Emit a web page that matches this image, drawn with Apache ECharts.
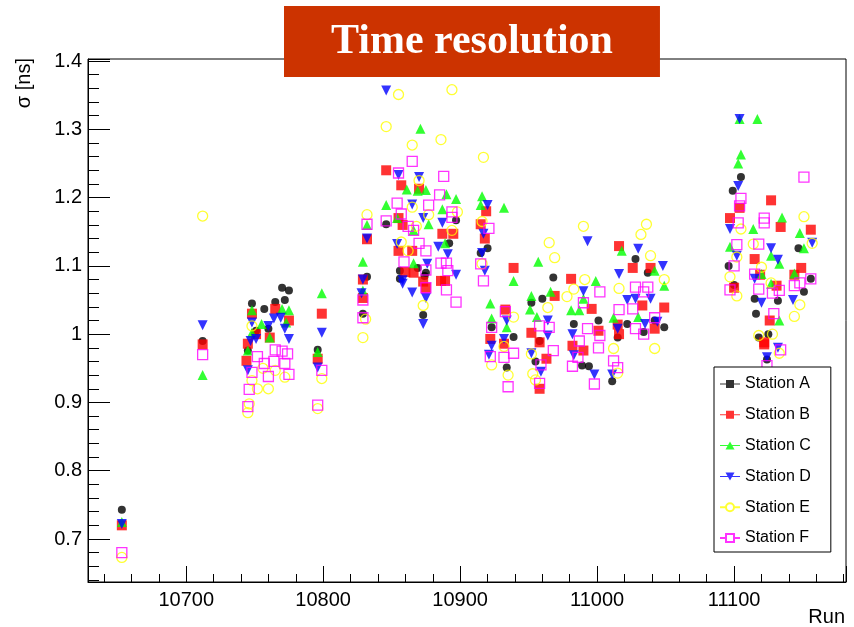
<!DOCTYPE html>
<html>
<head>
<meta charset="utf-8">
<script src="https://cdn.jsdelivr.net/npm/echarts@6/dist/echarts.min.js"></script>
<style>
html,body{margin:0;padding:0;background:#fff;}
#chart{width:854px;height:627px;}
</style>
</head>
<body>
<div id="chart"></div>
<script>
// [run, sigma (ns)] per station
const stationA = [[10653,0.743],[10712,0.990],[10748,1.045],[10757,1.037],[10765,1.047],[10770,1.068],[10775,1.064],[10772,1.050],[10760,1.008],[10745,0.976],[10751,1.005],[10796,0.977],[10832,1.084],[10829,1.030],[10846,1.161],[10892,1.133],[10897,1.167],[10869,1.097],[10856,1.093],[10856,1.081],[10875,1.090],[10874,1.085],[10873,1.028],[10920,1.126],[10915,1.119],[10923,1.010],[10939,0.996],[10934,0.951],[10968,1.083],[10952,1.046],[10960,1.052],[10958,0.990],[10955,0.960],[10983,1.015],[10994,0.953],[10989,0.954],[11001,1.020],[11028,1.110],[11022,1.015],[11015,0.995],[11011,0.931],[11037,1.090],[11034,1.003],[11049,1.010],[11042,1.020],[11105,1.230],[11099,1.210],[11096,1.100],[11100,1.072],[11115,1.052],[11116,1.030],[11132,1.049],[11118,0.995],[11124,0.963],[11125,1.000],[11147,1.126],[11156,1.081],[11151,1.062]];
const stationB = [[10653,0.720],[10712,0.985],[10748,1.030],[10745,0.986],[10744,0.961],[10765,1.037],[10775,1.020],[10761,0.995],[10751,1.000],[10799,1.030],[10796,0.964],[10832,1.139],[10829,1.080],[10829,1.053],[10846,1.240],[10857,1.218],[10870,1.213],[10855,1.170],[10858,1.160],[10887,1.147],[10895,1.147],[10855,1.122],[10865,1.122],[10860,1.091],[10866,1.090],[10886,1.078],[10889,1.078],[10873,1.077],[10875,1.068],[10919,1.180],[10915,1.161],[10918,1.140],[10922,0.993],[10939,1.097],[10933,1.036],[10932,0.986],[10969,1.056],[10952,1.002],[10958,0.988],[10963,0.964],[10958,0.920],[10981,1.081],[10996,1.037],[11001,1.005],[10982,0.983],[10990,0.976],[11016,1.129],[11026,1.097],[11015,1.014],[11016,1.000],[11039,1.097],[11049,1.039],[11033,1.042],[11042,1.008],[11097,1.170],[11104,1.185],[11127,1.196],[11134,1.157],[11115,1.110],[11119,1.087],[11100,1.068],[11131,1.071],[11126,1.020],[11122,0.988],[11122,0.985],[11156,1.153],[11149,1.097],[11144,1.087]];
const stationC = [[10653,0.725],[10712,0.940],[10748,1.035],[10748,1.002],[10761,0.995],[10770,1.037],[10775,1.035],[10773,1.017],[10745,0.976],[10755,1.015],[10799,1.060],[10796,0.974],[10832,1.160],[10829,1.106],[10829,1.064],[10871,1.301],[10861,1.212],[10869,1.210],[10875,1.211],[10890,1.205],[10897,1.198],[10846,1.189],[10887,1.183],[10854,1.170],[10877,1.161],[10866,1.152],[10889,1.133],[10866,1.104],[10916,1.202],[10915,1.189],[10932,1.185],[10922,1.045],[10923,1.023],[10939,1.078],[10934,1.010],[10957,1.106],[10952,1.056],[10951,1.036],[10956,1.025],[10966,1.062],[10999,1.078],[10990,1.052],[10981,1.035],[10987,1.035],[11012,1.024],[11018,1.122],[11042,1.093],[11049,1.071],[11030,1.025],[11104,1.315],[11117,1.315],[11105,1.263],[11103,1.250],[11097,1.128],[11135,1.171],[11114,1.154],[11127,1.115],[11133,1.103],[11120,1.088],[11127,1.074],[11133,1.020],[11148,1.148],[11151,1.126],[11144,1.089]];
const stationD = [[10653,0.722],[10712,1.013],[10748,1.017],[10747,0.990],[10745,0.947],[10751,0.993],[10760,1.012],[10764,1.023],[10769,1.024],[10772,1.008],[10775,0.993],[10799,1.002],[10796,0.951],[10832,1.140],[10829,1.080],[10828,1.060],[10846,1.357],[10855,1.233],[10870,1.230],[10865,1.190],[10873,1.170],[10887,1.163],[10854,1.132],[10884,1.128],[10891,1.117],[10876,1.103],[10858,1.074],[10865,1.061],[10897,1.087],[10875,1.053],[10873,1.015],[10858,1.079],[10920,1.189],[10917,1.147],[10916,1.119],[10918,1.093],[10923,0.983],[10921,0.970],[10934,1.020],[10932,0.993],[10964,1.020],[10964,0.998],[10952,0.972],[10959,0.945],[10993,1.136],[10990,1.063],[10982,1.000],[10983,0.969],[10998,0.941],[11030,1.125],[11016,1.088],[11022,1.050],[11015,1.008],[11011,0.941],[11048,1.100],[11039,1.052],[11028,1.052],[11035,1.015],[11044,1.018],[11104,1.315],[11103,1.217],[11097,1.154],[11102,1.115],[11127,1.126],[11132,1.109],[11115,1.081],[11120,1.046],[11124,0.966],[11132,0.980],[11157,1.134],[11143,1.050]];
const stationE = [[10653,0.673],[10712,1.173],[10748,1.012],[10748,0.932],[10752,0.920],[10760,0.920],[10745,0.885],[10746,0.898],[10756,0.950],[10765,0.947],[10772,0.937],[10799,0.935],[10796,0.891],[10832,1.175],[10831,1.022],[10829,0.995],[10855,1.351],[10846,1.304],[10865,1.277],[10886,1.285],[10894,1.358],[10870,1.225],[10865,1.186],[10877,1.175],[10898,1.179],[10868,1.158],[10894,1.152],[10857,1.135],[10862,1.122],[10873,1.042],[10917,1.259],[10916,1.165],[10916,1.103],[10923,0.955],[10939,1.025],[10932,0.982],[10935,0.940],[10969,1.112],[10965,1.134],[10964,1.039],[10952,0.971],[10953,0.942],[10955,0.933],[10990,1.158],[10991,1.080],[10983,1.066],[10978,1.055],[11016,1.067],[11012,0.979],[11015,0.943],[11036,1.161],[11032,1.146],[11039,1.115],[11049,1.080],[11042,0.979],[11105,1.154],[11114,1.132],[11102,1.113],[11097,1.084],[11102,1.056],[11120,1.098],[11127,1.075],[11118,0.998],[11133,0.972],[11128,1.000],[11151,1.172],[11157,1.133],[11148,1.043],[11144,1.026]];
const stationF = [[10653,0.680],[10712,0.970],[10748,0.944],[10746,0.919],[10745,0.894],[10752,0.967],[10757,0.957],[10760,0.938],[10764,0.960],[10765,0.977],[10770,0.975],[10772,0.957],[10774,0.971],[10775,0.941],[10799,0.947],[10796,0.896],[10832,1.161],[10829,1.050],[10829,1.024],[10865,1.253],[10855,1.236],[10888,1.231],[10885,1.204],[10854,1.192],[10857,1.176],[10877,1.189],[10894,1.179],[10846,1.166],[10862,1.158],[10866,1.152],[10870,1.133],[10875,1.122],[10859,1.106],[10886,1.104],[10890,1.104],[10875,1.094],[10891,1.093],[10875,1.068],[10890,1.065],[10897,1.047],[10894,1.171],[10921,1.155],[10915,1.103],[10917,1.078],[10923,1.010],[10922,0.967],[10933,1.033],[10932,0.966],[10939,0.972],[10935,0.923],[10958,1.012],[10965,1.010],[10968,0.976],[10959,0.955],[10958,0.928],[11002,1.062],[10990,1.046],[10993,1.008],[11002,0.998],[10987,0.990],[11001,0.980],[10986,0.966],[10982,0.953],[10998,0.927],[11016,1.036],[11026,1.037],[11012,0.961],[11015,0.951],[11028,1.069],[11037,1.069],[11034,1.062],[11042,1.024],[11028,1.008],[11034,1.000],[11105,1.199],[11104,1.188],[11103,1.163],[11122,1.170],[11122,1.163],[11118,1.132],[11102,1.131],[11100,1.100],[11097,1.065],[11115,1.088],[11118,1.066],[11128,1.060],[11133,1.064],[11129,1.030],[11134,0.977],[11124,0.954],[11151,1.230],[11156,1.081],[11148,1.075],[11144,1.071]];

const stationNames = ['Station A','Station B','Station C','Station D','Station E','Station F'];
const chartTitle = 'Time resolution';
const xAxisTitle = 'Run';
const yAxisTitle = 'σ [ns]';

const seriesData = [stationA, stationB, stationC, stationD, stationE, stationF];
const styles = [
  {symbol:'circle', size:8, item:{color:'#000000'}, icon:'path://M0,3.5H20V4.5H0Z M6,0H14V8H6Z'},
  {symbol:'rect', size:10, item:{color:'#ff0000'}, icon:'path://M0,3.5H20V4.5H0Z M6,0H14V8H6Z'},
  {symbol:'triangle', size:10, item:{color:'#00ff00'}, icon:'path://M0,3.5H20V4.5H0Z M10,0L14.5,8H5.5Z'},
  {symbol:'path://M0,0H10L5,10Z', size:10, item:{color:'#0000ff'}, icon:'path://M0,3.5H20V4.5H0Z M5.5,0H14.5L10,8Z'},
  {symbol:'circle', size:10, item:{color:'rgba(0,0,0,0)', borderColor:'#ffff00', borderWidth:1.3}, icon:'path://M0,4H6 M14,4H20 M6,4A4,4 0 1,0 14,4A4,4 0 1,0 6,4Z'},
  {symbol:'rect', size:10, item:{color:'rgba(0,0,0,0)', borderColor:'#ff00ff', borderWidth:1.3}, icon:'path://M0,4H6 M14,4H20 M6,0H14V8H6Z'}
];

const chart = echarts.init(document.getElementById('chart'), null, {renderer:'canvas'});
const font = 'Liberation Sans, Arial, Helvetica, sans-serif';

const option = {
  animation: false,
  backgroundColor: '#ffffff',
  title: {
    text: chartTitle,
    left: 284, top: 6,
    padding: [15, 47, 14, 47],
    backgroundColor: '#cc3300',
    textStyle: {color:'#ffffff', fontFamily:'Liberation Serif, Times New Roman, serif', fontWeight:'bold', fontSize:42, lineHeight:42},
    z: 20
  },
  grid: {left:88, top:59, right:8, bottom:45, show:true, borderColor:'#000', borderWidth:1, backgroundColor:'transparent'},
  legend: {
    orient:'vertical', left:714, top:367,
    padding:[9, 20, 6, 5],
    itemGap:14.8, itemWidth:20, itemHeight:8,
    borderColor:'#000', borderWidth:1, backgroundColor:'#fff',
    textStyle:{fontFamily:font, fontSize:16, color:'#000', lineHeight:16},
    data: stationNames.map((n,i)=>({name:n, icon:styles[i].icon})),
    z: 10
  },
  xAxis: {
    type:'value', min:10628.3, max:11181.7,
    minInterval:100, maxInterval:100, splitNumber:5,
    axisLine:{show:true, lineStyle:{color:'#000', width:1}},
    axisTick:{show:true, inside:true, length:16, lineStyle:{color:'#000'}},
    minorTick:{show:true, splitNumber:5, length:8, lineStyle:{color:'#000'}},
    splitLine:{show:false},
    axisLabel:{showMinLabel:false, showMaxLabel:false, margin:8, fontFamily:font, fontSize:20, color:'#000',
      formatter: v => String(Math.round(v))}
  },
  yAxis: {
    type:'value', min:0.637, max:1.403,
    minInterval:0.1, maxInterval:0.1, splitNumber:7,
    axisLine:{show:true, lineStyle:{color:'#000', width:1}},
    axisTick:{show:true, inside:true, length:22, lineStyle:{color:'#000'}},
    minorTick:{show:true, splitNumber:5, length:11, lineStyle:{color:'#000'}},
    splitLine:{show:false},
    axisLabel:{showMinLabel:false, showMaxLabel:false, margin:6, fontFamily:font, fontSize:20, color:'#000',
      formatter: v => (Math.round(v*10)/10).toString()}
  },
  graphic: [
    {type:'text', left:14, top:58, rotation:Math.PI/2, style:{text:yAxisTitle, fontFamily:font, fontSize:20, fill:'#000'}},
    {type:'text', right:9, top:607, style:{text:xAxisTitle, fontFamily:font, fontSize:20, fill:'#000'}}
  ],
  series: seriesData.map((d,i)=>({
    name: stationNames[i],
    type:'scatter',
    data: d,
    symbol: styles[i].symbol,
    symbolSize: styles[i].size,
    itemStyle: styles[i].item,
    emphasis:{disabled:true}
  }))
};
chart.setOption(option);
</script>
</body>
</html>
